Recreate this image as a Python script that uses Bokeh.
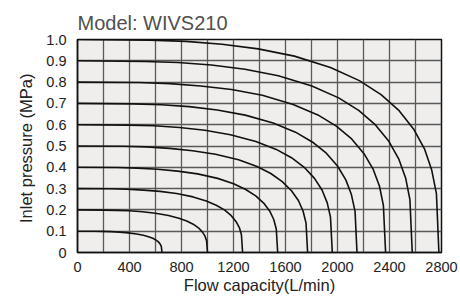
from bokeh.plotting import figure
from bokeh.models import FixedTicker, Range1d
from bokeh.embed import file_html
from bokeh.resources import INLINE

# Data: flow (L/min) vs inlet pressure (MPa) for each supply pressure
x01 = [0, 130, 195, 260, 325, 390, 455, 507, 546, 579, 605, 624, 637, 645, 650]
y01 = [0.1, 0.0997, 0.0991, 0.0978, 0.0956, 0.0922, 0.0869, 0.0807, 0.0741, 0.0666, 0.058, 0.0487, 0.0389, 0.0276, 0]
x02 = [0, 200, 300, 400, 500, 600, 700, 780, 840, 890, 930, 960, 980, 993, 1000]
y02 = [0.2, 0.199, 0.198, 0.196, 0.191, 0.184, 0.174, 0.161, 0.148, 0.133, 0.116, 0.097, 0.078, 0.055, 0]
x03 = [0, 254, 381, 508, 635, 762, 889, 991, 1067, 1130, 1181, 1219, 1245, 1261, 1270]
y03 = [0.3, 0.299, 0.297, 0.293, 0.287, 0.277, 0.261, 0.242, 0.222, 0.200, 0.174, 0.146, 0.117, 0.083, 0]
x04 = [0, 308, 462, 616, 770, 924, 1078, 1201, 1294, 1371, 1432, 1478, 1509, 1529, 1540]
y04 = [0.4, 0.399, 0.396, 0.391, 0.382, 0.369, 0.348, 0.323, 0.296, 0.266, 0.232, 0.195, 0.156, 0.110, 0]
x05 = [0, 354, 531, 708, 885, 1062, 1239, 1381, 1487, 1575, 1646, 1699, 1735, 1758, 1770]
y05 = [0.5, 0.499, 0.496, 0.489, 0.478, 0.461, 0.435, 0.404, 0.371, 0.333, 0.290, 0.244, 0.195, 0.138, 0]
x06 = [0, 392, 588, 784, 980, 1176, 1372, 1529, 1646, 1744, 1823, 1882, 1921, 1946, 1960]
y06 = [0.6, 0.598, 0.595, 0.587, 0.574, 0.553, 0.521, 0.484, 0.445, 0.400, 0.348, 0.292, 0.233, 0.166, 0]
x07 = [0, 430, 645, 860, 1075, 1290, 1505, 1677, 1806, 1914, 2000, 2064, 2107, 2135, 2150]
y07 = [0.7, 0.698, 0.694, 0.685, 0.669, 0.645, 0.608, 0.565, 0.519, 0.466, 0.406, 0.341, 0.272, 0.193, 0]
x08 = [0, 474, 711, 948, 1185, 1422, 1659, 1849, 1991, 2109, 2204, 2275, 2323, 2353, 2370]
y08 = [0.8, 0.798, 0.793, 0.782, 0.765, 0.738, 0.695, 0.646, 0.593, 0.533, 0.464, 0.390, 0.311, 0.221, 0]
x09 = [0, 515, 773, 1030, 1288, 1545, 1803, 2009, 2163, 2292, 2395, 2472, 2524, 2557, 2575]
y09 = [0.9, 0.897, 0.892, 0.880, 0.860, 0.830, 0.782, 0.726, 0.667, 0.599, 0.522, 0.438, 0.350, 0.248, 0]
x10 = [0, 556, 834, 1112, 1390, 1668, 1946, 2168, 2335, 2474, 2585, 2669, 2724, 2761, 2780]
y10 = [1.0, 0.997, 0.991, 0.978, 0.956, 0.922, 0.869, 0.807, 0.741, 0.666, 0.580, 0.487, 0.389, 0.276, 0]

x_ticks = [0, 400, 800, 1200, 1600, 2000, 2400, 2800]
x_grid = [0, 200, 400, 600, 800, 1000, 1200, 1400, 1600, 1800, 2000, 2200, 2400, 2600, 2800]
y_ticks = [0, 0.1, 0.2, 0.3, 0.4, 0.5, 0.6, 0.7, 0.8, 0.9, 1.0]
y_labels = ["0", "0.1", "0.2", "0.3", "0.4", "0.5", "0.6", "0.7", "0.8", "0.9", "1.0"]

FONT = "Liberation Sans"

p = figure(width=460, height=299, output_backend="svg", toolbar_location=None,
           x_range=Range1d(0, 2800), y_range=Range1d(0, 1.0),
           min_border_left=77, min_border_right=19, min_border_top=39, min_border_bottom=47,
           title="Model: WIVS210")
p.title.text_font = FONT
p.title.text_font_size = "20px"
p.title.text_font_style = "normal"
p.title.text_color = "#505050"
p.title.offset = 0
p.title.standoff = 11

p.background_fill_color = "#efeeed"
p.border_fill_color = "white"
p.outline_line_color = "#111111"
p.outline_line_width = 1.5

p.xaxis.ticker = FixedTicker(ticks=x_ticks)
p.yaxis.ticker = FixedTicker(ticks=y_ticks)
p.yaxis.major_label_overrides = {t: l for t, l in zip(y_ticks, y_labels)}
p.xgrid.ticker = FixedTicker(ticks=x_grid)
p.ygrid.ticker = FixedTicker(ticks=y_ticks)
p.grid.grid_line_color = "#595959"
p.grid.grid_line_width = 1.3

for ax in (p.xaxis, p.yaxis):
    ax.axis_line_color = "#111111"
    ax.axis_line_width = 1.5
    ax.major_tick_line_color = None
    ax.minor_tick_line_color = None
    ax.major_label_text_font = FONT
    ax.major_label_text_font_size = "14.5px"
    ax.major_label_text_color = "#222222"
    ax.axis_label_text_font = FONT
    ax.axis_label_text_font_size = "16.5px"
    ax.axis_label_text_font_style = "normal"
    ax.axis_label_text_color = "#222222"

p.xaxis.major_label_standoff = 3
p.yaxis.major_label_standoff = 5
p.xaxis.axis_label = "Flow capacity(L/min)"
p.yaxis.axis_label = "Inlet pressure  (MPa)"
p.xaxis.axis_label_standoff = 1
p.yaxis.axis_label_standoff = 8

for xs, ys in [(x01, y01), (x02, y02), (x03, y03), (x04, y04), (x05, y05),
               (x06, y06), (x07, y07), (x08, y08), (x09, y09), (x10, y10)]:
    p.line(xs, ys, line_color="#111111", line_width=1.6)

open("out.html", "w").write(file_html(p, INLINE))
